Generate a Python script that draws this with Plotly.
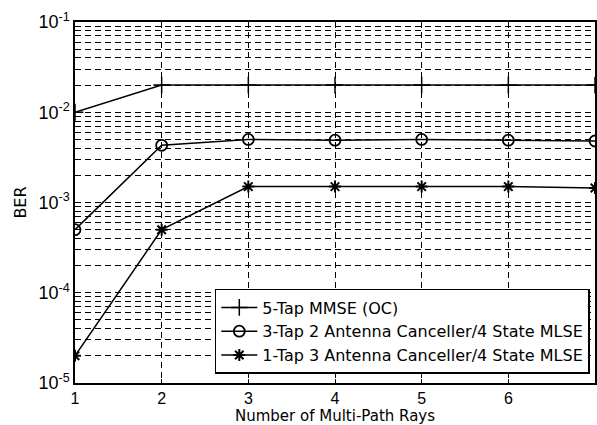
import plotly.graph_objects as go

rays = [1, 2, 3, 4, 5, 6, 7]
mmse_5tap = [1.0e-2, 2.0e-2, 2.0e-2, 2.0e-2, 2.0e-2, 2.0e-2, 2.0e-2]
canc_3tap = [5.0e-4, 4.3e-3, 5.0e-3, 4.9e-3, 5.0e-3, 4.9e-3, 4.8e-3]
canc_1tap = [2.0e-5, 5.0e-4, 1.5e-3, 1.5e-3, 1.5e-3, 1.5e-3, 1.45e-3]

names = ["5-Tap MMSE (OC)",
         "3-Tap 2 Antenna Canceller/4 State MLSE",
         "1-Tap 3 Antenna Canceller/4 State MLSE"]

x_tickvals = [1, 2, 3, 4, 5, 6, 7]
y_tickvals = [1e-5, 1e-4, 1e-3, 1e-2, 1e-1]
y_ticktext = ["10<sup>-5</sup>", "10<sup>-4</sup>", "10<sup>-3</sup>", "10<sup>-2</sup>", "10<sup>-1</sup>"]
minor_vals = [m * 10.0 ** e for e in range(-5, -1) for m in range(2, 10)]

fig = go.Figure()
fig.add_trace(go.Scatter(x=rays, y=mmse_5tap, name=names[0], mode="lines+markers",
                         line=dict(color="black", width=1.5),
                         marker=dict(symbol="cross-thin-open", size=12, line=dict(color="black", width=1.5))))
fig.add_trace(go.Scatter(x=rays, y=canc_3tap, name=names[1], mode="lines+markers",
                         line=dict(color="black", width=1.5),
                         marker=dict(symbol="circle-open", size=11, line=dict(color="black", width=1.8))))
fig.add_trace(go.Scatter(x=rays, y=canc_1tap, name=names[2], mode="lines+markers",
                         line=dict(color="black", width=1.5),
                         marker=dict(symbol="asterisk-open", size=10, line=dict(color="black", width=2))))

wide = "DejaVu Sans, Verdana, sans-serif"
fig.update_layout(
    width=597, height=425,
    margin=dict(l=75, r=0, t=22, b=42),
    paper_bgcolor="white", plot_bgcolor="white",
    font=dict(family="Liberation Sans, Arial, sans-serif", color="black", size=16),
    showlegend=True,
    legend=dict(x=0.99, y=0.025, xanchor="right", yanchor="bottom",
                bgcolor="white", bordercolor="black", borderwidth=1.5,
                font=dict(size=16, family=wide), tracegroupgap=0, itemwidth=36),
    xaxis=dict(range=[1, 7], tickvals=x_tickvals,
               showline=True, mirror=True, linecolor="black", linewidth=1.5,
               ticks="inside", ticklen=4, tickcolor="black",
               showgrid=True, gridcolor="black", griddash="6px,4px", gridwidth=1,
               zeroline=False, tickfont=dict(size=16),
               title=dict(text="Number of Multi-Path Rays", standoff=3, font=dict(size=15, family=wide))),
    yaxis=dict(type="log", range=[-5, -1], tickvals=y_tickvals, ticktext=y_ticktext,
               showline=True, mirror=True, linecolor="black", linewidth=1.5,
               ticks="inside", ticklen=4, tickcolor="black",
               showgrid=True, gridcolor="black", griddash="6px,4px", gridwidth=1,
               zeroline=False, tickfont=dict(size=18),
               minor=dict(tickvals=minor_vals, showgrid=True, gridcolor="black",
                          griddash="6px,4px", gridwidth=1, ticks="inside", ticklen=2),
               title=dict(text="BER", standoff=8, font=dict(size=16, family=wide))),
)

fig.write_html("out.html")
